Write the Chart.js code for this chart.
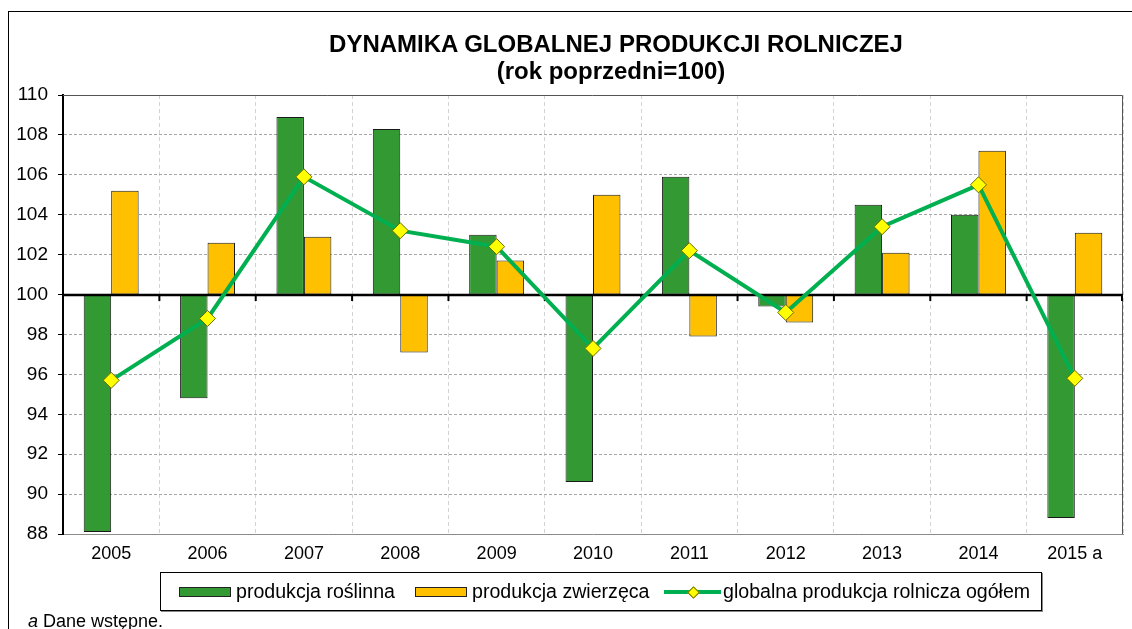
<!DOCTYPE html>
<html>
<head>
<meta charset="utf-8">
<script src="https://cdn.jsdelivr.net/npm/chart.js@4.4.1/dist/chart.umd.min.js"></script>
<style>
  body { margin: 0; background: #fff; overflow: hidden; font-family: "Liberation Sans", Arial, sans-serif; color: #000; }
  #wrap { position: relative; width: 1132px; height: 629px; overflow: hidden; }
  #frame { position: absolute; left: 8px; top: 11px; width: 1300px; height: 700px; border: 1px solid #000; }
  #chart { position: absolute; left: 0; top: 0; }
  .title { position: absolute; left: 616px; transform: translateX(-50%); font-weight: bold; font-size: 24px; white-space: nowrap; }
  #legend { position: absolute; left: 160px; top: 572px; width: 880px; height: 37px; border: 1px solid #000; box-shadow: 1px 1px 0 #888; }
  .item { position: absolute; top: 0; height: 37px; display: flex; align-items: center; font-size: 19.6px; white-space: nowrap; }
  .sw { display: inline-block; width: 50px; height: 8px; border: 1px solid #222; margin-right: 5px; }
  .ln { position: relative; display: inline-block; width: 57px; height: 10px; margin-right: 2px; }
  .ln::before { content: ""; position: absolute; left: 0; right: 0; top: 3px; height: 4px; background: #00b050; }
  .ln::after { content: ""; position: absolute; left: 25px; top: 1px; width: 7px; height: 7px; background: #ffff00; border: 1px solid #6b6b00; transform: rotate(45deg); }
  #note { position: absolute; left: 28px; top: 611px; font-size: 18px; white-space: nowrap; }
</style>
</head>
<body>
<div id="wrap">
  <div id="frame"></div>
  <canvas id="chart" width="1132" height="629"></canvas>
  <div class="title" style="top:30px">DYNAMIKA GLOBALNEJ PRODUKCJI ROLNICZEJ</div>
  <div class="title" style="top:57px; left:611px">(rok poprzedni=100)</div>
  <div id="legend"></div>
  <div id="note"><i>a</i> Dane wstępne.</div>
</div>
<script>
  const categories = ["2005", "2006", "2007", "2008", "2009", "2010", "2011", "2012", "2013", "2014", "2015 a"];
  const roslinna = [88.1, 94.8, 108.9, 108.3, 103.0, 90.6, 105.9, 99.4, 104.5, 104.0, 88.8];
  const zwierzeca = [105.2, 102.6, 102.9, 97.1, 101.7, 105.0, 97.9, 98.6, 102.1, 107.2, 103.1];
  const ogolem = [95.7, 98.8, 105.9, 103.2, 102.4, 97.3, 102.2, 99.1, 103.4, 105.5, 95.8];
  const seriesNames = ["produkcja roślinna", "produkcja zwierzęca", "globalna produkcja rolnicza ogółem"];
  const yMin = 88;
  const yMax = 110;
  const yStep = 2;
  const baseValue = 100;

  const fontFamily = "'Liberation Sans', Arial, sans-serif";

  // solid 100 line with category tick marks, plus top/right edges of the plot
  const baseline = {
    id: "baseline",
    beforeDatasetsDraw(chart) {
      const { ctx, chartArea: a } = chart;
      ctx.save();
      ctx.strokeStyle = "#555";
      ctx.lineWidth = 1;
      ctx.beginPath();
      ctx.moveTo(a.left, a.top + 0.5);
      ctx.lineTo(a.right - 0.5, a.top + 0.5);
      ctx.lineTo(a.right - 0.5, a.bottom);
      ctx.stroke();
      ctx.restore();
    },
    beforeDatasetDraw(chart, args) {
      if (args.meta.type !== "line") return;
      const { ctx, chartArea: a, scales: { x, y } } = chart;
      const py = Math.round(y.getPixelForValue(baseValue));
      ctx.save();
      ctx.strokeStyle = "#000";
      ctx.lineWidth = 2.5;
      ctx.beginPath();
      ctx.moveTo(a.left, py);
      ctx.lineTo(a.right, py);
      ctx.stroke();
      ctx.lineWidth = 2;
      for (let i = 1; i <= categories.length; i++) {
        const px = i === categories.length ? a.right - 1 : (x.getPixelForTick(i - 1) + x.getPixelForTick(i)) / 2;
        ctx.beginPath();
        ctx.moveTo(px, py);
        ctx.lineTo(px, py + 6);
        ctx.stroke();
      }
      ctx.restore();
    }
  };

  new Chart(document.getElementById("chart"), {
    type: "bar",
    data: {
      labels: categories,
      datasets: [
        {
          label: seriesNames[0],
          data: roslinna.map(v => [baseValue, v]),
          backgroundColor: "#339933",
          borderColor: "#1a1a1a",
          borderWidth: 1,
          borderSkipped: false,
          categoryPercentage: 0.57,
          barPercentage: 1,
          order: 1
        },
        {
          label: seriesNames[1],
          data: zwierzeca.map(v => [baseValue, v]),
          backgroundColor: "#ffc000",
          borderColor: "#1a1a1a",
          borderWidth: 1,
          borderSkipped: false,
          categoryPercentage: 0.57,
          barPercentage: 1,
          order: 1
        },
        {
          type: "line",
          label: seriesNames[2],
          data: ogolem,
          borderColor: "#00b050",
          borderWidth: 4,
          tension: 0,
          pointStyle: "rectRot",
          pointRadius: 8,
          pointBackgroundColor: "#ffff00",
          pointBorderColor: "#6b6b00",
          pointBorderWidth: 1,
          order: 0
        }
      ]
    },
    options: {
      responsive: false,
      animation: false,
      layout: { padding: { top: 95, right: 9, left: 0, bottom: 0 } },
      plugins: { legend: { display: false }, tooltip: { enabled: false } },
      scales: {
        x: {
          grid: { color: "#d2d2d2", drawTicks: false, offset: true },
          border: { color: "#8a8a8a", width: 1, dash: [4, 3] },
          ticks: { color: "#000", font: { family: fontFamily, size: 18 }, padding: 9 },
          afterFit(scale) { scale.height = 95; }
        },
        y: {
          min: yMin,
          max: yMax,
          ticks: { stepSize: yStep, color: "#000", font: { family: fontFamily, size: 19 }, padding: 10 },
          grid: { color: "#a6a6a6", tickColor: "#000", tickLength: 5 },
          border: { color: "#000", width: 2, dash: [3, 2] },
          afterFit(scale) { scale.width = 63; }
        }
      }
    },
    plugins: [baseline]
  });

  // legend box
  const legend = document.getElementById("legend");
  const legendItems = [
    { left: 18, html: '<span class="sw" style="background:#339933"></span>' + seriesNames[0] },
    { left: 254, html: '<span class="sw" style="background:#ffc000"></span>' + seriesNames[1] },
    { left: 503, html: '<span class="ln"></span>' + seriesNames[2] }
  ];
  legendItems.forEach(it => {
    const d = document.createElement("div");
    d.className = "item";
    d.style.left = it.left + "px";
    d.innerHTML = it.html;
    legend.appendChild(d);
  });
</script>
</body>
</html>
